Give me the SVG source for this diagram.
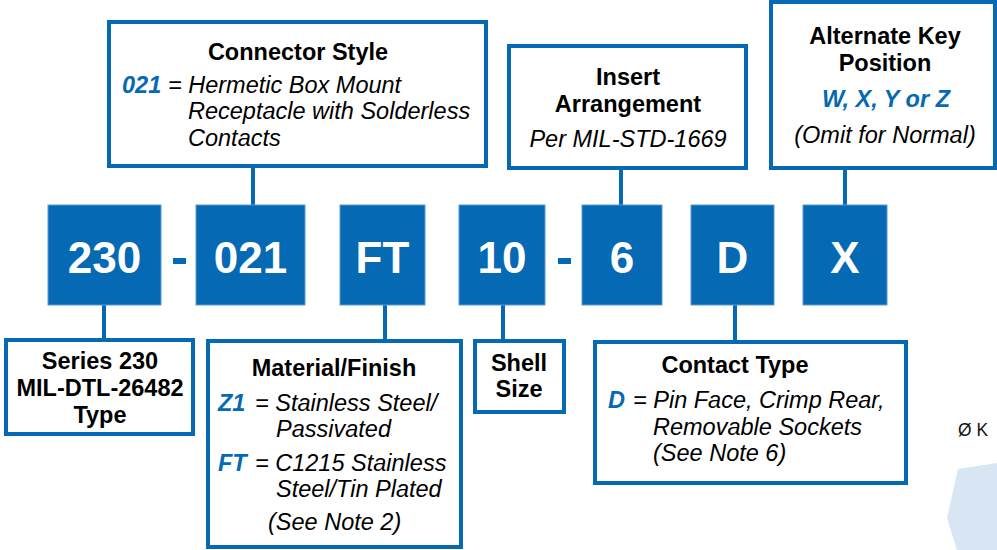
<svg xmlns="http://www.w3.org/2000/svg" width="997" height="550" viewBox="0 0 997 550">
<style>
.box{fill:#fff;stroke:#0569B3;stroke-width:4}
.code{fill:#0569B3;stroke:#5d9ad0;stroke-width:1}
.ct{font-family:"Liberation Sans",Arial,sans-serif;font-weight:bold;font-size:44px;fill:#fff;text-anchor:middle}
.dash{fill:#0569B3}
.h{font-family:"Liberation Sans",Arial,sans-serif;font-weight:bold;font-size:23.5px;fill:#000;text-anchor:middle}
.i{font-family:"Liberation Sans",Arial,sans-serif;font-style:italic;font-size:23.5px;fill:#000}
.b{font-family:"Liberation Sans",Arial,sans-serif;font-style:italic;font-weight:bold;font-size:23.5px;fill:#0569B3}
.ln{stroke:#0569B3;stroke-width:4;fill:none}
</style>
<path d="M958,469 L997,463 L997,550 L957,550 L947,518 Z" fill="#d7e6f2"/>
<text x="958" y="436" font-family="Liberation Sans, sans-serif" font-size="19" fill="#111" textLength="30" lengthAdjust="spacingAndGlyphs">Ø K</text>
<g id="connectors">
<line class="ln" x1="253" y1="166" x2="253" y2="205"/>
<line class="ln" x1="621" y1="168" x2="621" y2="205"/>
<line class="ln" x1="845" y1="168" x2="845" y2="205"/>
<line class="ln" x1="104" y1="305" x2="104" y2="340"/>
<line class="ln" x1="385" y1="305" x2="385" y2="341"/>
<line class="ln" x1="503" y1="305" x2="503" y2="340"/>
<line class="ln" x1="735" y1="305" x2="735" y2="341"/>
</g>
<g id="code">
<g id="c230"><rect class="code" x="48" y="205" width="113" height="100"/><text class="ct" x="104.5" y="273">230</text></g>
<rect class="dash" x="173" y="258" width="13" height="6"/>
<g id="c021"><rect class="code" x="196" y="205" width="109" height="100"/><text class="ct" x="250.5" y="273">021</text></g>
<g id="cFT"><rect class="code" x="340" y="205" width="85" height="100"/><text class="ct" x="382.5" y="273">FT</text></g>
<g id="c10"><rect class="code" x="459" y="205" width="86" height="100"/><text class="ct" x="502" y="273">10</text></g>
<rect class="dash" x="558" y="258" width="13" height="6"/>
<g id="c6"><rect class="code" x="582" y="205" width="80" height="100"/><text class="ct" x="622" y="273">6</text></g>
<g id="cD"><rect class="code" x="691" y="205" width="83" height="100"/><text class="ct" x="732.5" y="273">D</text></g>
<g id="cX"><rect class="code" x="803" y="205" width="84" height="100"/><text class="ct" x="845" y="273">X</text></g>
</g>
<g id="connector-style">
<rect class="box" x="109" y="22" width="377" height="144"/>
<text class="h" x="298" y="60">Connector Style</text>
<text class="b" x="122" y="93">021</text>
<text class="i" x="168" y="93">= Hermetic Box Mount</text>
<text class="i" x="188" y="119">Receptacle with Solderless</text>
<text class="i" x="188" y="146">Contacts</text>
</g>
<g id="insert">
<rect class="box" x="509" y="46" width="237" height="122"/>
<text class="h" x="628" y="85">Insert</text>
<text class="h" x="628" y="112">Arrangement</text>
<text class="i" x="628" y="147" text-anchor="middle">Per MIL-STD-1669</text>
</g>
<g id="altkey">
<rect class="box" x="771" y="2" width="224" height="166"/>
<text class="h" x="885" y="44">Alternate Key</text>
<text class="h" x="885" y="71">Position</text>
<text class="b" x="886" y="107" text-anchor="middle">W, X, Y or Z</text>
<text class="i" x="885" y="143" text-anchor="middle">(Omit for Normal)</text>
</g>
<g id="series">
<rect class="box" x="6" y="340" width="187" height="94"/>
<text class="h" x="100" y="369">Series 230</text>
<text class="h" x="100" y="396">MIL-DTL-26482</text>
<text class="h" x="100" y="423">Type</text>
</g>
<g id="material">
<rect class="box" x="208" y="341" width="253" height="206"/>
<text class="h" x="334" y="376">Material/Finish</text>
<text class="b" x="218" y="411">Z1</text>
<text class="i" x="255" y="411">= Stainless Steel/</text>
<text class="i" x="276" y="437">Passivated</text>
<text class="b" x="218" y="471">FT</text>
<text class="i" x="255" y="471">= C1215 Stainless</text>
<text class="i" x="276" y="497">Steel/Tin Plated</text>
<text class="i" x="268" y="530">(See Note 2)</text>
</g>
<g id="shell">
<rect class="box" x="475" y="341" width="89" height="71"/>
<text class="h" x="519" y="371">Shell</text>
<text class="h" x="519" y="397">Size</text>
</g>
<g id="contact">
<rect class="box" x="595" y="342" width="311" height="141"/>
<text class="h" x="735" y="373">Contact Type</text>
<text class="b" x="608" y="408">D</text>
<text class="i" x="633" y="408">= Pin Face, Crimp Rear,</text>
<text class="i" x="653" y="435">Removable Sockets</text>
<text class="i" x="653" y="461">(See Note 6)</text>
</g>
</svg>
